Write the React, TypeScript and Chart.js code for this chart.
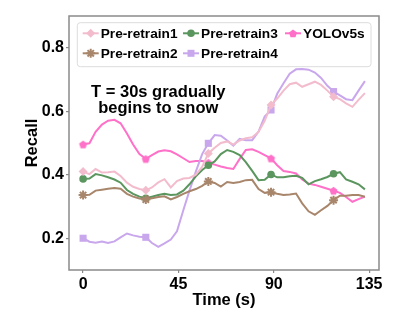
import { useEffect, useRef } from 'react';
import { Chart, registerables } from 'chart.js';

Chart.register(...registerables);

const times = [0, 3, 5.9, 8.9, 11.8, 14.8, 17.7, 20.7, 23.6, 26.6, 29.6, 32.5, 35.5, 38.4, 41.4, 44.3, 47.3, 50.2, 53.2, 56.2, 59.1, 62.1, 65, 68, 70.9, 73.9, 76.8, 79.8, 82.8, 85.7, 88.7, 91.6, 94.6, 97.5, 100.5, 103.4, 106.4, 109.4, 112.3, 115.3, 118.2, 121.2, 124.1, 127.1, 130, 133];

const preRetrain1 = [0.410, 0.402, 0.418, 0.407, 0.408, 0.410, 0.396, 0.375, 0.362, 0.355, 0.351, 0.360, 0.376, 0.386, 0.360, 0.380, 0.388, 0.390, 0.400, 0.425, 0.467, 0.485, 0.500, 0.505, 0.495, 0.508, 0.515, 0.518, 0.535, 0.570, 0.620, 0.640, 0.665, 0.685, 0.690, 0.677, 0.685, 0.693, 0.683, 0.665, 0.646, 0.638, 0.625, 0.614, 0.636, 0.657];
const preRetrain2 = [0.336, 0.337, 0.350, 0.353, 0.356, 0.358, 0.356, 0.340, 0.331, 0.325, 0.322, 0.326, 0.330, 0.332, 0.322, 0.330, 0.340, 0.348, 0.355, 0.365, 0.379, 0.374, 0.363, 0.377, 0.374, 0.377, 0.383, 0.384, 0.355, 0.343, 0.345, 0.340, 0.336, 0.338, 0.341, 0.310, 0.285, 0.274, 0.288, 0.302, 0.320, 0.334, 0.334, 0.336, 0.336, 0.331];
const preRetrain3 = [0.387, 0.388, 0.402, 0.398, 0.392, 0.385, 0.375, 0.352, 0.340, 0.331, 0.326, 0.331, 0.336, 0.340, 0.336, 0.338, 0.350, 0.370, 0.395, 0.415, 0.430, 0.442, 0.465, 0.478, 0.472, 0.462, 0.440, 0.412, 0.383, 0.384, 0.401, 0.392, 0.392, 0.395, 0.397, 0.390, 0.370, 0.380, 0.386, 0.393, 0.403, 0.408, 0.385, 0.378, 0.370, 0.354];
const preRetrain4 = [0.200, 0.189, 0.186, 0.190, 0.185, 0.190, 0.203, 0.215, 0.209, 0.205, 0.203, 0.185, 0.173, 0.184, 0.196, 0.222, 0.288, 0.350, 0.410, 0.465, 0.499, 0.525, 0.523, 0.508, 0.492, 0.513, 0.509, 0.509, 0.536, 0.583, 0.604, 0.655, 0.688, 0.718, 0.732, 0.733, 0.731, 0.722, 0.705, 0.680, 0.662, 0.650, 0.638, 0.635, 0.665, 0.695];
const yolov5s = [0.496, 0.499, 0.535, 0.558, 0.570, 0.573, 0.562, 0.530, 0.495, 0.465, 0.450, 0.462, 0.473, 0.477, 0.474, 0.464, 0.452, 0.440, 0.443, 0.443, 0.438, 0.432, 0.426, 0.421, 0.418, 0.450, 0.478, 0.480, 0.472, 0.462, 0.452, 0.430, 0.412, 0.409, 0.404, 0.385, 0.372, 0.368, 0.362, 0.356, 0.350, 0.343, 0.330, 0.315, 0.323, 0.331];

const seriesNames = ['Pre-retrain1', 'Pre-retrain2', 'Pre-retrain3', 'Pre-retrain4', 'YOLOv5s'];
const seriesColors = ['#f3bccd', '#a8866b', '#5b965f', '#c9a7ec', '#ff70c8'];
const seriesMarkers = ['rectRot', 'star', 'circle', 'rect', 'pentagon'];
const xTicks = [0, 45, 90, 135];
const yTicks = [0.2, 0.4, 0.6, 0.8];
const annotationLines = ['T = 30s gradually', 'begins to snow'];
const xTitle = 'Time (s)';
const yTitle = 'Recall';

const FONT = '"Liberation Sans", Arial, sans-serif';

function makePentagon(color: string, r: number) {
  const c = document.createElement('canvas');
  const s = Math.ceil(r * 2 + 2);
  c.width = s;
  c.height = s;
  const g = c.getContext('2d')!;
  g.fillStyle = color;
  g.beginPath();
  for (let k = 0; k < 5; k++) {
    const a = -Math.PI / 2 + (k * 2 * Math.PI) / 5;
    const px = s / 2 + r * Math.cos(a);
    const py = s / 2 + r * Math.sin(a) + 0.5;
    if (k === 0) g.moveTo(px, py);
    else g.lineTo(px, py);
  }
  g.closePath();
  g.fill();
  return c;
}

function drawMarker(ctx: CanvasRenderingContext2D, style: string, x: number, y: number, color: string) {
  ctx.save();
  ctx.fillStyle = color;
  ctx.strokeStyle = color;
  ctx.beginPath();
  if (style === 'rectRot') {
    const r = 4.5;
    ctx.moveTo(x, y - r);
    ctx.lineTo(x + r, y);
    ctx.lineTo(x, y + r);
    ctx.lineTo(x - r, y);
    ctx.closePath();
    ctx.fill();
  } else if (style === 'rect') {
    ctx.rect(x - 3.5, y - 3.5, 7, 7);
    ctx.fill();
  } else if (style === 'circle') {
    ctx.arc(x, y, 3.8, 0, Math.PI * 2);
    ctx.fill();
  } else if (style === 'pentagon') {
    const r = 4.2;
    for (let k = 0; k < 5; k++) {
      const a = -Math.PI / 2 + (k * 2 * Math.PI) / 5;
      const px = x + r * Math.cos(a);
      const py = y + r * Math.sin(a) + 0.5;
      if (k === 0) ctx.moveTo(px, py);
      else ctx.lineTo(px, py);
    }
    ctx.closePath();
    ctx.fill();
  } else if (style === 'star') {
    const r = 4.5;
    ctx.lineWidth = 2;
    for (let k = 0; k < 4; k++) {
      const a = (k * Math.PI) / 4;
      ctx.moveTo(x - r * Math.cos(a), y - r * Math.sin(a));
      ctx.lineTo(x + r * Math.cos(a), y + r * Math.sin(a));
    }
    ctx.stroke();
  }
  ctx.restore();
}

const overlayPlugin = {
  id: 'overlay',
  afterDatasetsDraw(chart: any) {
    const { ctx, chartArea: a } = chart;
    ctx.save();
    // frame (spines)
    ctx.strokeStyle = '#8a8a8a';
    ctx.lineWidth = 1.5;
    ctx.strokeRect(a.left, a.top, a.right - a.left, a.bottom - a.top);

    // annotation
    ctx.fillStyle = '#000';
    ctx.font = `bold 16.5px ${FONT}`;
    ctx.textAlign = 'center';
    ctx.textBaseline = 'alphabetic';
    annotationLines.forEach((t, k) => {
      ctx.fillText(t, a.left + 89.3, a.top + 80.7 + k * 16.6);
    });

    // legend
    const bx = a.left + 8.3;
    const by = a.top + 6.7;
    const bw = a.right - 8 - bx;
    const bh = 44;
    ctx.beginPath();
    const rr = 3;
    ctx.moveTo(bx + rr, by);
    ctx.arcTo(bx + bw, by, bx + bw, by + bh, rr);
    ctx.arcTo(bx + bw, by + bh, bx, by + bh, rr);
    ctx.arcTo(bx, by + bh, bx, by, rr);
    ctx.arcTo(bx, by, bx + bw, by, rr);
    ctx.closePath();
    ctx.fillStyle = 'rgba(255,255,255,0.85)';
    ctx.fill();
    ctx.strokeStyle = '#dcdcdc';
    ctx.lineWidth = 1;
    ctx.stroke();

    const cols = [a.left + 13.7, a.left + 114, a.left + 216];
    const rows = [a.top + 17.3, a.top + 37.3];
    ctx.font = `bold 13.7px ${FONT}`;
    ctx.textAlign = 'left';
    ctx.textBaseline = 'middle';
    seriesNames.forEach((name, i) => {
      const cx = cols[Math.floor(i / 2)];
      const cy = rows[i % 2];
      ctx.strokeStyle = seriesColors[i];
      ctx.lineWidth = 2;
      ctx.beginPath();
      ctx.moveTo(cx, cy);
      ctx.lineTo(cx + 16, cy);
      ctx.stroke();
      drawMarker(ctx, seriesMarkers[i], cx + 8, cy, seriesColors[i]);
      ctx.fillStyle = '#000';
      ctx.fillText(name, cx + 18, cy + 0.5);
    });
    ctx.restore();
  },
};

export default function App() {
  const ref = useRef<HTMLCanvasElement | null>(null);

  useEffect(() => {
    if (!ref.current) return;
    const series = [preRetrain1, preRetrain2, preRetrain3, preRetrain4, yolov5s];
    const pent = makePentagon(seriesColors[4], 4.2);
    const datasets = series.map((vals, i) => {
      const style: any = seriesMarkers[i] === 'pentagon' ? pent : seriesMarkers[i];
      const radius = seriesMarkers[i] === 'rect' ? 5 : seriesMarkers[i] === 'circle' ? 3.8 : 4.5;
      return {
        label: seriesNames[i],
        data: times.map((t, k) => ({ x: t, y: vals[k] })),
        borderColor: seriesColors[i],
        backgroundColor: seriesColors[i],
        borderWidth: 2,
        pointStyle: style,
        pointRadius: (c: any) => (c.dataIndex % 10 === 0 ? radius : 0),
        pointHoverRadius: 0,
        pointBorderWidth: seriesMarkers[i] === 'star' ? 2 : 0,
        pointBorderColor: seriesColors[i],
        tension: 0,
        fill: false,
      };
    });

    const chart = new Chart(ref.current, {
      type: 'line',
      data: { datasets },
      options: {
        animation: false,
        responsive: false,
        devicePixelRatio: 1,
        layout: { padding: { top: 16, right: 20, left: 0, bottom: 0 } },
        plugins: { legend: { display: false }, tooltip: { enabled: false } },
        scales: {
          x: {
            type: 'linear',
            min: -6.65,
            max: 139.65,
            afterBuildTicks: (s: any) => {
              s.ticks = xTicks.map((v) => ({ value: v }));
            },
            afterFit: (s: any) => {
              s.height = 49;
            },
            border: { display: false },
            grid: { drawOnChartArea: false, drawTicks: true, tickLength: 3, color: '#8a8a8a', lineWidth: 1.2 },
            ticks: {
              padding: 2,
              maxRotation: 0,
              autoSkip: false,
              color: '#000',
              font: { family: FONT, size: 16, weight: 'bold' },
              callback: (v: any) => String(v),
            },
            title: {
              display: true,
              text: xTitle,
              color: '#000',
              font: { family: FONT, size: 16.5, weight: 'bold' },
              padding: { top: 0, bottom: 9.1 },
            },
          },
          y: {
            type: 'linear',
            min: 0.1,
            max: 0.9,
            afterBuildTicks: (s: any) => {
              s.ticks = yTicks.map((v) => ({ value: v }));
            },
            afterFit: (s: any) => {
              s.width = 69;
            },
            border: { display: false },
            grid: { drawOnChartArea: false, drawTicks: true, tickLength: 3, color: '#8a8a8a', lineWidth: 1.2 },
            ticks: {
              padding: 2,
              color: '#000',
              font: { family: FONT, size: 16, weight: 'bold' },
              callback: (v: any) => Number(v).toFixed(1),
            },
            title: {
              display: true,
              text: yTitle,
              color: '#000',
              font: { family: FONT, size: 16.5, weight: 'bold' },
              padding: { top: 22.6, bottom: 0 },
            },
          },
        },
      },
      plugins: [overlayPlugin],
    } as any);

    return () => chart.destroy();
  }, []);

  return (
    <div style={{ position: 'absolute', left: 0, top: 0, width: 399, height: 319, background: '#fff' }}>
      <canvas ref={ref} width={399} height={319} style={{ display: 'block', width: 399, height: 319 }} />
    </div>
  );
}
